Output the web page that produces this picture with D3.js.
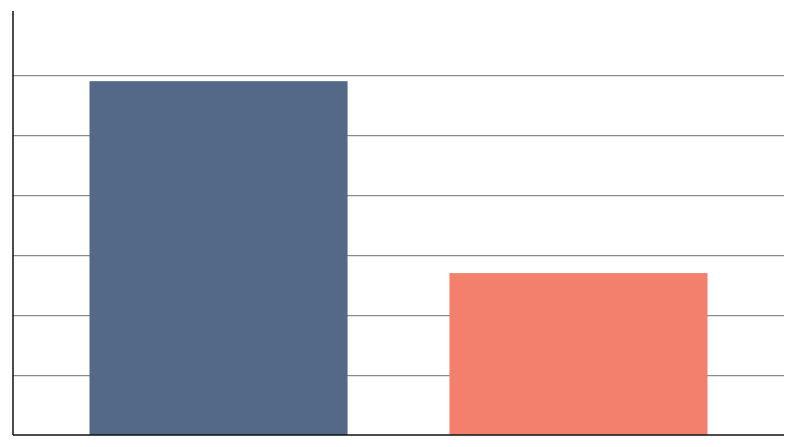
<!DOCTYPE html>
<html>
<head>
<meta charset="utf-8">
<script src="https://cdn.jsdelivr.net/npm/d3@7"></script>
<style>
  body { margin: 0; background: #fff; }
</style>
</head>
<body>
<svg id="viz" width="800" height="447"></svg>
<script>
const categories = ['A', 'B']
const values = [59, 27]
const barColors = ['#546987', '#f2806c']
const gridTicks = [10, 20, 30, 40, 50, 60]

const MARGIN = { top: 11, bottom: 12, left: 13, right: 16 }
const svg = d3.select('svg#viz')
const width = +svg.attr('width')
const height = +svg.attr('height')

const x = d3.scaleBand()
    .domain(categories)
    .range([MARGIN.left, width - MARGIN.right])
    .paddingInner(0.283)
    .paddingOuter(0.2125)

const y = d3.scaleLinear()
    .domain([0, 70.7])
    .range([height - MARGIN.bottom, MARGIN.top])

// gridlines
svg.append('g')
    .attr('transform', `translate(${MARGIN.left},0)`)
    .call(d3.axisLeft(y).tickValues(gridTicks).tickSize(-(width - MARGIN.left - MARGIN.right)).tickFormat(''))
    .call(g => g.select('.domain').remove())
    .call(g => g.selectAll('.tick line').attr('stroke', '#8a8a8a').attr('stroke-width', 1.2))

svg.append('g').selectAll('rect')
    .data(values)
    .join('rect')
    .attr('x', (d, i) => x(categories[i]))
    .attr('y', d => y(d))
    .attr('width', x.bandwidth())
    .attr('height', d => y(0) - y(d))
    .attr('fill', (d, i) => barColors[i])

// axes
svg.append('line')
    .attr('x1', MARGIN.left).attr('x2', MARGIN.left)
    .attr('y1', y.range()[1]).attr('y2', y(0))
    .attr('stroke', '#111').attr('stroke-width', 1.5)
svg.append('line')
    .attr('x1', MARGIN.left).attr('x2', width - MARGIN.right)
    .attr('y1', y(0)).attr('y2', y(0))
    .attr('stroke', '#111').attr('stroke-width', 1.5)
</script>
</body>
</html>
